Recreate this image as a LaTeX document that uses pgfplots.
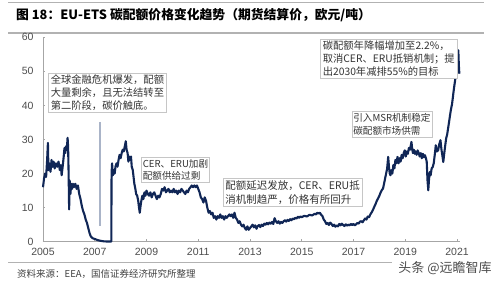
\documentclass[border=0pt]{standalone}
\usepackage{fontspec}
\usepackage{pgfplots}
\pgfplotsset{compat=1.18}
\setmainfont{Liberation Sans}
\newfontfamily\cjk{Noto Sans CJK SC}
\definecolor{navy}{RGB}{16,38,86}
\definecolor{arrowc}{RGB}{170,180,200}
\begin{document}
\begin{tikzpicture}[x=1pt,y=1pt]
\path[use as bounding box] (0,0) rectangle (499,283);
% header rules and title
\draw[gray!60,line width=0.8pt] (8,280.3) -- (484,280.3);
\draw[gray!60,line width=1.2pt] (8,250) -- (484,250);
\node[anchor=west,inner sep=0pt,font=\cjk\bfseries\fontsize{12.8}{14}\selectfont] at (16,267.5) {图 18：EU-ETS 碳配额价格变化趋势（期货结算价，欧元/吨）};
\begin{axis}[
  at={(43pt,41.3pt)}, anchor=south west,
  scale only axis, width=416.6pt, height=204.4pt,
  xmin=2005, xmax=2021.1, ymin=0, ymax=60,
  axis x line*=bottom, axis y line*=left,
  axis line style={gray!70,line width=0.8pt,-},
  xtick={2005,2007,...,2021}, ytick={0,10,...,60},
  tick align=inside, major tick length=2.5pt,
  tick style={gray!70,line width=0.6pt},
  xticklabel style={font=\fontsize{10.5}{12}\selectfont,text=black!70,yshift=-3pt},
  yticklabel style={font=\fontsize{10.5}{12}\selectfont,text=black!70,xshift=-6pt},
  /pgf/number format/assume math mode=true,
  x tick label style={/pgf/number format/1000 sep={}},
  clip=false,
]
\addplot[navy,line width=2.1pt,line join=round] coordinates {
(2005.00,16) (2005.04,18.5) (2005.08,20) (2005.12,19) (2005.16,24) (2005.19,29) (2005.21,21)
(2005.25,23) (2005.29,20.5) (2005.33,24) (2005.37,22) (2005.41,23.5) (2005.45,21.5) (2005.50,23)
(2005.55,22) (2005.60,23.5) (2005.65,21) (2005.69,22.5) (2005.72,19.5) (2005.76,22) (2005.80,25)
(2005.83,27.5) (2005.86,26) (2005.89,28) (2005.92,27) (2005.95,30.5) (2005.97,28) (2005.99,20)
(2006.01,9.5) (2006.03,18) (2006.06,14) (2006.09,17) (2006.12,15.5) (2006.16,17) (2006.20,16)
(2006.25,17) (2006.30,15.5) (2006.35,16.5) (2006.40,14) (2006.45,12.5) (2006.50,10.5) (2006.55,9)
(2006.60,8) (2006.65,6.5) (2006.70,5.5) (2006.75,4) (2006.80,2.5) (2006.85,1.5) (2006.92,1)
(2007.00,0.8) (2007.10,0.5) (2007.20,0.3) (2007.35,0.1) (2007.50,0.05) (2007.64,0.05)
(2007.65,20) (2007.67,23) (2007.70,19.5) (2007.73,21) (2007.77,20) (2007.80,22) (2007.84,23)
(2007.88,22) (2007.92,24) (2007.96,25.5) (2008.00,24.5) (2008.04,26) (2008.08,27) (2008.12,26.5)
(2008.16,28) (2008.20,29.5) (2008.23,27) (2008.27,26) (2008.30,23.5) (2008.33,25) (2008.37,24)
(2008.40,25) (2008.43,22) (2008.47,21) (2008.50,19) (2008.53,17) (2008.57,15.5) (2008.60,14)
(2008.64,13.5) (2008.68,12) (2008.71,10) (2008.74,8.5) (2008.77,10.5) (2008.80,12) (2008.84,13.5)
(2008.88,12.5) (2008.92,14.5) (2008.96,13.5) (2009.00,15) (2009.05,14) (2009.10,13.5) (2009.15,14.5)
(2009.20,13) (2009.25,14) (2009.30,14.5) (2009.35,13.5) (2009.40,12.5) (2009.45,13.5) (2009.50,13)
(2009.55,14) (2009.60,15.5) (2009.65,15) (2009.70,16) (2009.75,14.5) (2009.80,15) (2009.85,15.5)
(2009.90,14.5) (2009.95,15) (2010.00,14.5) (2010.05,15.5) (2010.10,14.5) (2010.15,15) (2010.20,14)
(2010.25,15) (2010.30,14.5) (2010.35,15.5) (2010.40,15) (2010.45,14.5) (2010.50,14) (2010.55,15)
(2010.60,14.5) (2010.65,15.5) (2010.70,16) (2010.75,16.5) (2010.80,16) (2010.85,16.5) (2010.90,16)
(2010.95,16.5) (2011.00,15.5) (2011.05,14.5) (2011.10,13) (2011.15,12.5) (2011.20,11.5) (2011.25,13)
(2011.30,12) (2011.35,10) (2011.40,8.5) (2011.45,9) (2011.50,8) (2011.55,8.5) (2011.60,7)
(2011.65,7.5) (2011.70,6.5) (2011.75,7.5) (2011.80,7) (2011.85,8) (2011.90,7) (2011.95,7.5)
(2012.00,6.5) (2012.05,7.5) (2012.10,7) (2012.15,7.5) (2012.20,8) (2012.25,7.5) (2012.30,8)
(2012.35,7) (2012.40,8.5) (2012.45,7) (2012.50,6.5) (2012.55,5.5) (2012.60,6) (2012.65,5)
(2012.70,4.5) (2012.75,5) (2012.80,4) (2012.85,3.5) (2012.90,4.5) (2012.95,3.5) (2013.00,4)
(2013.05,4.5) (2013.10,5) (2013.15,4.2) (2013.20,4.8) (2013.25,3.8) (2013.30,4.6) (2013.35,4.9)
(2013.40,4.3) (2013.45,5) (2013.50,4.6) (2013.55,5.3) (2013.60,5) (2013.65,5.5) (2013.70,5.1)
(2013.75,5.6) (2013.80,5.3) (2013.85,5.8) (2013.90,5.2) (2013.95,6.9) (2014.00,6) (2014.05,5.5)
(2014.10,6) (2014.15,5.3) (2014.20,5.8) (2014.25,5.5) (2014.30,6) (2014.35,6.3) (2014.40,5.9)
(2014.45,6.4) (2014.50,6.1) (2014.55,6.6) (2014.60,6.3) (2014.65,6.8) (2014.70,6.6) (2014.75,7)
(2014.80,6.8) (2014.85,7.3) (2014.90,7) (2014.95,7.4) (2015.00,7.2) (2015.10,7.6) (2015.20,7.4)
(2015.30,7.9) (2015.40,7.7) (2015.50,8.2) (2015.55,8.0) (2015.60,8.5) (2015.65,8.3) (2015.70,8.5)
(2015.75,7.9) (2015.80,7.5) (2015.85,6.5) (2015.90,6) (2015.95,5.2) (2016.00,5.5) (2016.05,4.9)
(2016.10,5.6) (2016.15,5.2) (2016.20,4.6) (2016.25,5) (2016.30,4.4) (2016.35,4.8) (2016.40,4.5)
(2016.45,5.2) (2016.50,4.8) (2016.55,5.3) (2016.60,4.9) (2016.65,4.6) (2016.70,5.1) (2016.75,4.7)
(2016.80,5) (2016.85,4.8) (2016.90,5.2) (2016.95,4.9) (2017.00,5.2) (2017.05,4.8) (2017.10,5.1)
(2017.15,5.5) (2017.20,5.3) (2017.25,5.9) (2017.30,6) (2017.35,5.7) (2017.40,6.3) (2017.45,6.8)
(2017.50,6.5) (2017.55,7.4) (2017.60,7.2) (2017.65,8) (2017.70,8.6) (2017.75,9.3) (2017.80,10.2)
(2017.85,11) (2017.90,12) (2017.95,12.7) (2018.00,13.5) (2018.05,14.5) (2018.10,15.2) (2018.14,15.6)
(2018.18,17) (2018.22,18.5) (2018.26,20) (2018.30,21.5) (2018.34,24.9) (2018.37,22) (2018.40,20)
(2018.43,19.5) (2018.46,21) (2018.50,20) (2018.54,22.5) (2018.58,21.5) (2018.62,24) (2018.66,23)
(2018.70,24.9) (2018.74,23) (2018.78,24.5) (2018.82,23.5) (2018.86,25.5) (2018.90,24.5) (2018.94,26)
(2018.98,26.8) (2019.02,25) (2019.06,26.5) (2019.10,25.8) (2019.14,27.5) (2019.18,27) (2019.22,28.5)
(2019.24,29.3) (2019.27,27) (2019.30,26) (2019.33,27) (2019.37,25.8) (2019.40,26.5) (2019.44,25.5)
(2019.48,26.8) (2019.52,26) (2019.56,25) (2019.60,26) (2019.64,24.5) (2019.68,25.8) (2019.72,24.8)
(2019.76,25.4) (2019.80,24.5) (2019.83,23.4) (2019.86,18) (2019.89,15.1) (2019.92,18.5) (2019.95,20.5)
(2019.98,19.5) (2020.02,21.5) (2020.06,21.9) (2020.10,23) (2020.14,25.5) (2020.18,28.3) (2020.22,26.5)
(2020.27,26.8) (2020.31,28.5) (2020.36,29.8) (2020.40,27) (2020.44,25) (2020.47,23.4) (2020.50,25.5)
(2020.54,28) (2020.58,30.3) (2020.62,31.5) (2020.66,33.5) (2020.70,35.5) (2020.73,37.1) (2020.77,39)
(2020.81,40.5) (2020.85,43) (2020.88,44.9) (2020.92,47) (2020.96,49.5) (2020.99,51.8) (2021.02,54)
(2021.05,56.2) (2021.07,52) (2021.09,49.3)
};
\end{axis}
% annotation arrow line
\draw[arrowc,line width=1.5pt] (100,161) -- (100,57);
% annotation boxes
\tikzset{anno/.style={draw=gray!45,line width=0.6pt,fill=white,inner xsep=2.5pt,inner ysep=2pt,align=left,anchor=north west,text=black!80,font=\cjk\fontsize{10.3}{12.8}\selectfont}}
\node[anno] at (48,210.3) {全球金融危机爆发，配额\\大量剩余，且无法结转至\\第二阶段，碳价触底。};
\node[anno,font=\cjk\fontsize{9.6}{12.5}\selectfont,inner xsep=1.5pt] at (141,126) {CER、ERU加剧\\配额供给过剩};
\node[anno,font=\cjk\fontsize{10.5}{14}\selectfont] at (222.5,105) {配额延迟发放，CER、ERU抵\\消机制趋严，价格有所回升};
\node[anno,font=\cjk\fontsize{9.6}{12.5}\selectfont,inner xsep=1.5pt] at (351.5,171.5) {引入MSR机制稳定\\碳配额市场供需};
\node[anno] at (320,244) {碳配额年降幅增加至2.2\%，\\取消CER、ERU抵销机制；提\\出2030年减排55\%的目标};
% footer
\draw[gray!60,line width=1pt] (8,20) -- (392,20);
\node[anchor=west,inner sep=0pt,text=black!75,font=\cjk\fontsize{9.5}{11}\selectfont] at (17,9.5) {资料来源：EEA，国信证券经济研究所整理};
\node[inner sep=0pt,text=black!70,font=\cjk\fontsize{13}{15}\selectfont] at (445,14.5) {头条 @远瞻智库};
\end{tikzpicture}
\end{document}
